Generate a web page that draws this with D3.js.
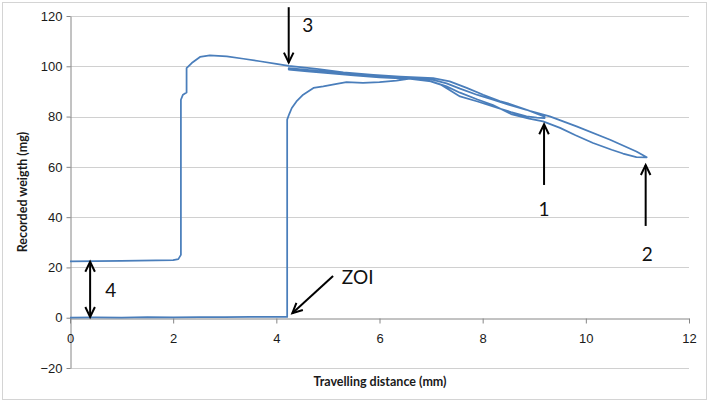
<!DOCTYPE html>
<html>
<head>
<meta charset="utf-8">
<style>
body { margin: 0; background: #fff; }
svg { font-family: Lato, "Open Sans", sans-serif; }
.grid line { stroke: #d0d0d0; stroke-width: 1; }
.axis path, .axis line { stroke: #868686; }
.axis text { font-size: 13px; fill: #1a1a1a; }
.title { font-size: 12.5px; font-weight: bold; fill: #1a1a1a; }
.note { font-size: 19px; fill: #111; }
.arrow { stroke: #000; stroke-width: 2; fill: none; }
</style>
<script src="https://d3js.org/d3.v7.min.js"></script>
</head>
<body>
<svg width="709" height="402"></svg>
<script>

// travelling distance (mm) / recorded weight (mg), one continuous record
var distance = [
  // first approach, flat until the zone of interest, then contact
  0, 0.5, 1.0, 1.5, 2.0, 2.5, 3.0, 3.5, 4.0, 4.21, 4.21, 4.25, 4.3, 4.39, 4.52, 4.72, 4.91,
  5.17, 5.36, 5.68, 6.0, 6.33, 6.59, 6.9, 7.2, 7.56, 7.9, 8.2, 8.55, 8.85, 9.05, 9.2,
  // back to 3
  9.2, 9.0, 8.85, 8.5, 8.2, 7.9, 7.56, 7.3, 7.0, 6.6, 6.0, 5.5, 5.0, 4.6, 4.24,
  // out to 2
  4.24, 4.6, 5.0, 5.5, 6.0, 6.6, 7.0, 7.3, 7.56, 7.9, 8.2, 8.55, 8.9, 9.17, 9.5, 9.8,
  10.14, 10.5, 10.72, 10.98, 11.18,
  // full return
  11.18, 10.98, 10.47, 9.82, 9.3, 8.91, 8.53, 8.33, 8.01, 7.69, 7.36, 7.04, 6.4, 5.88,
  5.3, 4.78, 4.24, 4.0, 3.68, 3.36, 3.04, 2.71, 2.52, 2.36, 2.26, 2.26, 2.19, 2.15, 2.15,
  2.1, 2.0, 1.0, 0
];
var weight = [
  0, 0.1, 0.0, 0.2, 0.1, 0.2, 0.2, 0.3, 0.3, 0.3, 78.8, 81, 83.4, 86, 88.7, 91.4, 92.0,
  93.0, 93.7, 93.4, 93.7, 94.3, 95.1, 94.6, 92.6, 88.0, 86.0, 84.0, 81.8, 80.1, 79.6, 79.4,
  80.0, 81.5, 82.7, 84.7, 86.7, 88.6, 91.1, 93.2, 94.8, 95.4, 96.0, 96.8, 97.8, 98.6, 99.3,
  98.7, 98.0, 97.3, 96.4, 95.6, 95.0, 94.0, 92.0, 89.5, 86.8, 84.6, 81.0, 79.2, 78.1, 75.5, 72.6,
  69.5, 66.8, 65.3, 63.9, 63.8,
  63.8, 66.1, 70.8, 76.1, 80.1, 82.3, 85.0, 86.2, 88.7, 91.4, 94.0, 95.3, 95.9, 96.6,
  97.6, 99.0, 100.2, 101.0, 102.0, 103.0, 103.9, 104.3, 103.7, 101.3, 99.3, 89.6, 88.7, 86.7, 25,
  23.3, 22.9, 22.6, 22.4
];

var xTicks = [0, 2, 4, 6, 8, 10, 12];
var yTicks = [-20, 0, 20, 40, 60, 80, 100, 120];

// annotations in chart units
var noteText = ["3", "1", "2", "4", "ZOI"];
var noteX = [4.61, 9.19, 11.19, 0.79, 5.27];
var noteY = [113.6, 40.5, 22.6, 8.2, 13.4];
var noteAnchor = ["middle", "middle", "middle", "middle", "start"];

// arrows: start -> tip
var arrowX1 = [4.24, 9.19, 11.16, 0.39, 5.1];
var arrowY1 = [123.5, 52.8, 36.5, 0.3, 16.6];
var arrowX2 = [4.24, 9.19, 11.16, 0.39, 4.31];
var arrowY2 = [101.5, 76.9, 60.7, 22.2, 1.8];
var arrowBoth = [false, false, false, true, false];

var svg = d3.select("svg");

var x = d3.scaleLinear().domain([0, 12]).range([70, 689]);
var y = d3.scaleLinear().domain([-20, 120]).range([368, 16]);

svg.append("rect")
    .attr("x", 2.5).attr("y", 2.5)
    .attr("width", 704).attr("height", 397)
    .attr("fill", "#fff")
    .attr("stroke", "#d4d4d4");

svg.append("g").attr("class", "grid")
  .selectAll("line")
  .data(yTicks.filter(function(d) { return d !== 0; }))
  .enter().append("line")
    .attr("x1", x(0)).attr("x2", x(12))
    .attr("y1", function(d) { return Math.round(y(d)) + 0.5; })
    .attr("y2", function(d) { return Math.round(y(d)) + 0.5; });

var yAxis = svg.append("g").attr("class", "axis")
    .attr("transform", "translate(" + (x(0) + 0.5) + ",0)")
    .call(d3.axisLeft(y).tickValues(yTicks).tickSize(4).tickSizeOuter(0).tickPadding(4));

var xAxis = svg.append("g").attr("class", "axis")
    .attr("transform", "translate(0," + (Math.round(y(0)) + 0.5) + ")")
    .call(d3.axisBottom(x).tickValues(xTicks).tickSize(5).tickSizeOuter(0).tickPadding(10));

svg.selectAll(".axis .domain").attr("stroke", "#868686");

var line = d3.line()
    .x(function(d, i) { return x(distance[i]); })
    .y(function(d, i) { return y(weight[i]); });

svg.append("path")
    .datum(weight)
    .attr("d", line)
    .attr("fill", "none")
    .attr("stroke", "#4a7ebb")
    .attr("stroke-width", 1.75)
    .attr("stroke-linejoin", "round");

svg.append("text").attr("class", "title")
    .attr("x", 380).attr("y", 386)
    .attr("text-anchor", "middle")
    .text("Travelling distance (mm)");

svg.append("text").attr("class", "title")
    .attr("transform", "translate(27,192) rotate(-90)")
    .attr("text-anchor", "middle")
    .text("Recorded weigth (mg)");

function head(x0, y0, x1, y1) {
  var a = Math.atan2(y1 - y0, x1 - x0), len = 11, w = 0.45;
  var p1 = [x1 - len * Math.cos(a - w), y1 - len * Math.sin(a - w)];
  var p2 = [x1 - len * Math.cos(a + w), y1 - len * Math.sin(a + w)];
  return "M" + p1 + "L" + [x1, y1] + "L" + p2;
}

var arrows = svg.append("g");
arrowX1.forEach(function(d, i) {
  var sx = x(arrowX1[i]), sy = y(arrowY1[i]), tx = x(arrowX2[i]), ty = y(arrowY2[i]);
  arrows.append("line").attr("class", "arrow")
      .attr("x1", sx).attr("y1", sy).attr("x2", tx).attr("y2", ty);
  arrows.append("path").attr("class", "arrow").attr("d", head(sx, sy, tx, ty));
  if (arrowBoth[i]) arrows.append("path").attr("class", "arrow").attr("d", head(tx, ty, sx, sy));
});

svg.append("g").selectAll("text")
  .data(noteText)
  .enter().append("text")
    .attr("class", "note")
    .attr("x", function(d, i) { return x(noteX[i]); })
    .attr("y", function(d, i) { return y(noteY[i]); })
    .attr("text-anchor", function(d, i) { return noteAnchor[i]; })
    .text(function(d) { return d; });

</script>
</body>
</html>
